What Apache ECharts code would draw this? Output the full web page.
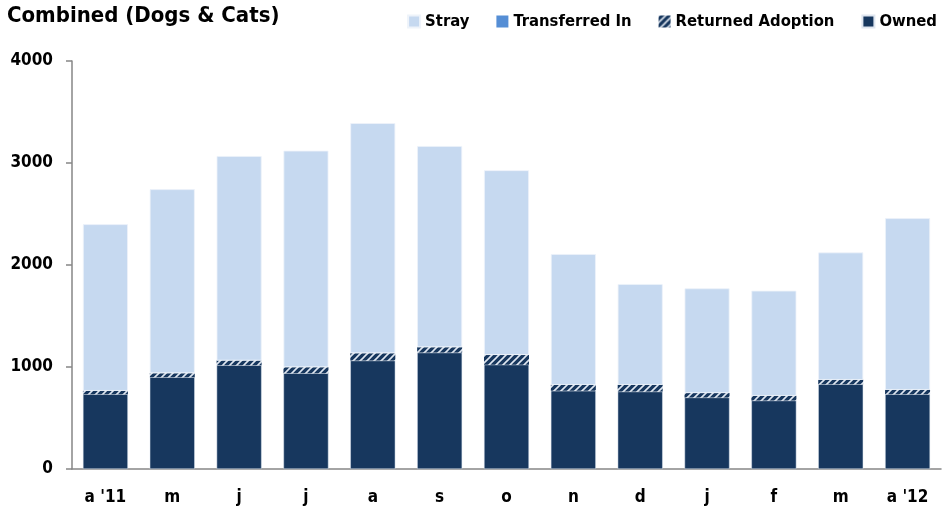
<!DOCTYPE html>
<html>
<head>
<meta charset="utf-8">
<script src="https://cdn.jsdelivr.net/npm/echarts@6/dist/echarts.min.js"></script>
<style>
html,body{margin:0;padding:0;background:#fff;}
#chart{width:943px;height:510px;}
</style>
</head>
<body>
<div id="chart"></div>
<script>
const categories = ["a '11", "m", "j", "j", "a", "s", "o", "n", "d", "j", "f", "m", "a '12"];
const owned = [734, 900, 1018, 939, 1063, 1141, 1023, 766, 759, 701, 671, 832, 734];
const returnedAdoption = [32, 39, 45, 59, 72, 53, 95, 59, 66, 43, 46, 42, 42];
const transferredIn = [0, 0, 0, 0, 0, 0, 0, 0, 0, 0, 0, 0, 0];
const stray = [1634, 1804, 2005, 2123, 2256, 1972, 1811, 1282, 988, 1027, 1031, 1249, 1683];
const yTicks = [0, 1000, 2000, 3000, 4000];

const FONT = '"DejaVu Sans Condensed", "Liberation Sans Narrow", sans-serif';

function hatch() {
  const c = document.createElement('canvas');
  c.width = 7; c.height = 7;
  const g = c.getContext('2d');
  g.fillStyle = '#17375e';
  g.fillRect(0, 0, 7, 7);
  g.strokeStyle = '#dfe6f0';
  g.lineWidth = 1.6;
  g.beginPath();
  g.moveTo(-1, 8); g.lineTo(8, -1);
  g.moveTo(-1, 1); g.lineTo(1, -1);
  g.moveTo(6, 8); g.lineTo(8, 6);
  g.stroke();
  return c;
}

const chart = echarts.init(document.getElementById('chart'), null, {renderer: 'canvas'});
const common = {type: 'bar', stack: 'total', barWidth: 45};
chart.setOption({
  animation: false,
  title: {
    text: 'Combined (Dogs & Cats)', left: 2, top: 0,
    textStyle: {fontFamily: FONT, fontWeight: 'bold', fontSize: 22, color: '#000'}
  },
  legend: {
    right: 1, top: 8, itemWidth: 12, itemHeight: 12, itemGap: 27,
    icon: 'rect',
    textStyle: {fontFamily: FONT, fontWeight: 'bold', fontSize: 16.5, color: '#000'},
    data: ['Stray', 'Transferred In', 'Returned Adoption', 'Owned']
  },
  grid: {left: 72, right: 2, top: 61, bottom: 41},
  xAxis: {
    type: 'category', data: categories,
    axisLine: {lineStyle: {color: '#868686', width: 1.5}},
    axisTick: {alignWithLabel: true, length: 6, lineStyle: {color: '#868686', width: 1.5}},
    axisLabel: {fontFamily: FONT, fontWeight: 'bold', fontSize: 17, color: '#000', margin: 20}
  },
  yAxis: {
    type: 'value', min: yTicks[0], max: yTicks[yTicks.length - 1], interval: 1000,
    axisLine: {show: true, lineStyle: {color: '#868686', width: 1.5}},
    axisTick: {show: true, length: 6, lineStyle: {color: '#868686', width: 1.5}},
    splitLine: {show: false},
    axisLabel: {fontFamily: FONT, fontWeight: 'bold', fontSize: 17, color: '#000', margin: 19,
      formatter: function (v) { return String(v); }}
  },
  series: [
    Object.assign({name: 'Owned', data: owned, itemStyle: {color: '#17375e', borderColor: '#dfe6f0', borderWidth: 0.5}}, common),
    Object.assign({name: 'Returned Adoption', data: returnedAdoption, itemStyle: {color: {image: hatch(), repeat: 'repeat'}}}, common),
    Object.assign({name: 'Transferred In', data: transferredIn, itemStyle: {color: '#558ed5'}}, common),
    Object.assign({name: 'Stray', data: stray, itemStyle: {color: '#c6d9f0', borderColor: '#eef3fa', borderWidth: 0.8}}, common)
  ]
});
</script>
</body>
</html>
